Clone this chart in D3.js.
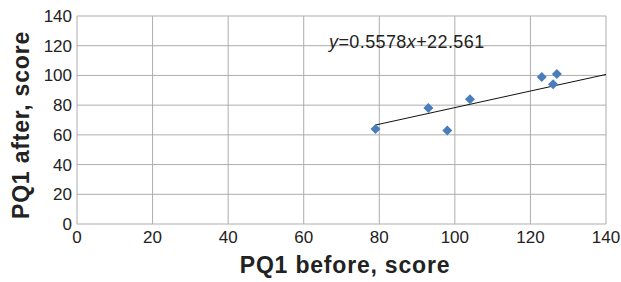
<!DOCTYPE html>
<html>
<head>
<meta charset="utf-8">
<script src="https://cdn.jsdelivr.net/npm/d3@7"></script>
<style>
  body { margin: 0; background: #fff; }
  svg text { font-family: "Liberation Sans", Arial, sans-serif; fill: #222; }
  .tick-label { font-size: 17px; }
  .axis-title { font-size: 23px; font-weight: bold; letter-spacing: 0.8px; }
</style>
</head>
<body>
<div class="chart"></div>
<script>
// data
var beforeScores = [79, 93, 98, 104, 123, 126, 127];
var afterScores  = [64, 78, 63, 84, 99, 94, 101];
var tickValues = [0, 20, 40, 60, 80, 100, 120, 140];
var slope = 0.5578, intercept = 22.561;

var chartW = 621, chartH = 282;
var padL = 77, padR = 606, padT = 16, padB = 224;

var svg = d3.select('.chart').append('svg')
    .attr('width', chartW)
    .attr('height', chartH);

var x = d3.scaleLinear().domain([0, 140]).range([padL, padR]);
var y = d3.scaleLinear().domain([0, 140]).range([padB, padT]);

// grid
var grid = svg.append('g');
grid.selectAll('.vg')
    .data(tickValues)
    .enter().append('line')
    .attr('x1', function(d) { return x(d); })
    .attr('x2', function(d) { return x(d); })
    .attr('y1', padT)
    .attr('y2', padB)
    .attr('stroke', '#adadad')
    .attr('stroke-width', 1);
grid.selectAll('.hg')
    .data(tickValues)
    .enter().append('line')
    .attr('y1', function(d) { return y(d); })
    .attr('y2', function(d) { return y(d); })
    .attr('x1', padL)
    .attr('x2', padR)
    .attr('stroke', '#adadad')
    .attr('stroke-width', 1);

// tick labels
svg.append('g').selectAll('text')
    .data(tickValues)
    .enter().append('text')
    .attr('class', 'tick-label')
    .attr('x', 72)
    .attr('y', function(d) { return y(d) + 6; })
    .attr('text-anchor', 'end')
    .text(function(d) { return d; });

svg.append('g').selectAll('text')
    .data(tickValues)
    .enter().append('text')
    .attr('class', 'tick-label')
    .attr('x', function(d) { return x(d); })
    .attr('y', 243)
    .attr('text-anchor', 'middle')
    .text(function(d) { return d; });

// axis titles
svg.append('text')
    .attr('class', 'axis-title')
    .attr('x', 345)
    .attr('y', 273)
    .attr('text-anchor', 'middle')
    .text('PQ1 before, score');

svg.append('text')
    .attr('class', 'axis-title')
    .attr('transform', 'translate(29,125) rotate(-90)')
    .attr('text-anchor', 'middle')
    .text('PQ1 after, score');

// trend line
var x0 = d3.min(beforeScores), x1 = 140;
svg.append('line')
    .attr('x1', x(x0))
    .attr('y1', y(slope * x0 + intercept))
    .attr('x2', x(x1))
    .attr('y2', y(slope * x1 + intercept))
    .attr('stroke', '#111')
    .attr('stroke-width', 1);

// points
var pts = beforeScores.map(function(v, i) { return { x: v, y: afterScores[i] }; });
svg.append('g').selectAll('path')
    .data(pts)
    .enter().append('path')
    .attr('d', d3.symbol().type(d3.symbolDiamond2).size(64))
    .attr('transform', function(d) { return 'translate(' + x(d.x) + ',' + y(d.y) + ')'; })
    .attr('fill', '#4a7ebb');

// equation
var eq = svg.append('text')
    .attr('x', 329)
    .attr('y', 48)
    .attr('font-size', 18)
    .attr('letter-spacing', 0.4);
eq.append('tspan').attr('font-style', 'italic').text('y');
eq.append('tspan').text('=0.5578');
eq.append('tspan').attr('font-style', 'italic').text('x');
eq.append('tspan').text('+22.561');
</script>
</body>
</html>
